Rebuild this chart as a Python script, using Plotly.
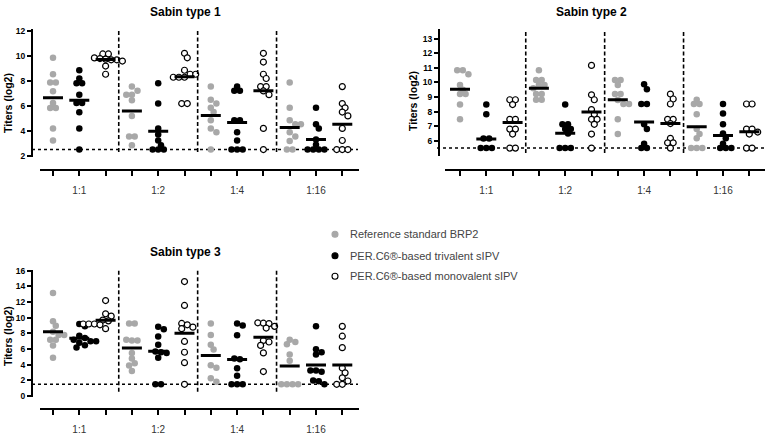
import plotly.graph_objects as go

W, H = 766, 437

dilutions = ["1:1", "1:2", "1:4", "1:16"]
series_names = ["Reference standard BRP2", "PER.C6®-based trivalent sIPV", "PER.C6®-based monovalent sIPV"]
panel_titles = ["Sabin type 1", "Sabin type 2", "Sabin type 3"]
y_title = "Titers (log2)"

# ---- Sabin type 1 (values per dilution 1:1, 1:2, 1:4, 1:16) ----
s1_ref = [[9.86, 8.54, 7.87, 7.87, 7.18, 6.24, 5.84, 5.84, 4.2, 3.23],
          [7.55, 7.22, 6.9, 6.9, 6.45, 5.2, 3.55, 3.55, 2.84],
          [7.55, 6.5, 6.19, 5.85, 5.51, 4.85, 4.2, 3.88, 2.5],
          [7.87, 5.85, 4.85, 4.54, 4.54, 3.88, 3.55, 3.18, 2.5, 2.5]]
s1_tri = [[8.86, 8.2, 7.81, 7.81, 6.9, 6.24, 6.24, 5.5, 4.2, 2.5],
          [7.81, 6.19, 4.2, 3.7, 3.23, 2.84, 2.5, 2.5, 2.5],
          [7.55, 7.21, 7.21, 4.85, 4.85, 3.88, 3.23, 2.5, 2.5, 2.5],
          [5.85, 4.54, 4.2, 3.3, 2.89, 2.5, 2.5, 2.5, 2.5]]
s1_mono = [[10.17, 10.17, 9.85, 9.8, 9.75, 9.7, 9.7, 9.6, 9.2, 8.54],
           [10.22, 9.86, 8.86, 8.54, 8.54, 8.3, 8.3, 8.3, 6.19, 6.19],
           [10.22, 9.52, 8.54, 8.2, 7.55, 7.55, 7.2, 6.9, 4.2, 2.5],
           [7.55, 6.19, 5.85, 5.51, 5.2, 4.2, 3.23, 2.5, 2.5, 2.5]]
s1_mean = [6.66, 6.45, 9.72, 5.59, 3.96, 8.34, 5.24, 4.67, 7.21, 4.28, 3.3, 4.54]

# ---- Sabin type 2 ----
s2_ref = [[10.83, 10.83, 10.56, 9.82, 9.5, 9.2, 9.2, 8.48, 7.47],
          [10.83, 10.16, 10.16, 9.82, 9.82, 9.6, 9.2, 9.2, 8.81, 8.81],
          [10.16, 10.16, 9.82, 9.2, 9.2, 8.8, 8.52, 8.52, 7.47, 6.46],
          [8.81, 8.52, 8.52, 7.81, 6.8, 6.46, 6.17, 5.5, 5.5, 5.5]]
s2_tri = [[8.48, 7.81, 6.15, 6.15, 5.5, 5.5, 5.5],
          [8.48, 7.13, 7.13, 6.8, 6.8, 6.5, 5.5, 5.5, 5.5],
          [9.87, 9.53, 8.52, 8.52, 7.13, 6.8, 5.8, 5.5, 5.5],
          [8.52, 7.87, 7.13, 6.5, 6.17, 5.8, 5.5, 5.5, 5.5]]
s2_mono = [[8.81, 8.81, 8.48, 7.47, 7.47, 6.8, 6.8, 6.46, 5.5, 5.5],
           [11.16, 9.15, 8.81, 8.14, 7.81, 7.47, 7.47, 7.13, 6.46, 5.5],
           [9.2, 8.86, 8.52, 7.47, 7.47, 7.18, 6.17, 5.86, 5.86, 5.5],
           [8.52, 8.52, 6.8, 6.8, 6.6, 6.46, 5.5, 5.5]]
s2_mean = [9.53, 6.13, 7.25, 9.6, 6.51, 7.97, 8.81, 7.29, 7.18, 6.96, 6.36, 6.62]

# ---- Sabin type 3 ----
s3_ref = [[13.16, 9.56, 8.98, 8.2, 7.8, 7.8, 7.18, 7.18, 6.47, 4.89],
          [9.27, 9.27, 7.2, 7.1, 7.1, 5.51, 4.8, 4.2, 3.9, 3.2],
          [9.27, 7.8, 6.55, 5.93, 3.92, 3.63, 2.26, 1.83],
          [7.2, 6.9, 6.6, 5.3, 4.5, 1.5, 1.5, 1.5, 1.5]]
s3_tri = [[9.2, 8.9, 7.7, 7.4, 7.2, 7.0, 7.0, 6.8, 6.5, 6.2],
          [8.85, 8.52, 7.6, 6.55, 5.7, 5.6, 5.5, 4.89, 1.5, 1.5],
          [9.27, 9.0, 7.77, 4.8, 4.7, 3.55, 2.58, 1.5, 1.5, 1.5],
          [8.9, 5.96, 5.6, 5.3, 3.25, 3.25, 3.1, 2.0, 1.9, 1.5]]
s3_mono = [[12.19, 10.5, 10.2, 9.7, 9.6, 9.2, 9.2, 9.2, 9.1, 8.6],
           [14.62, 11.57, 9.27, 9.1, 8.8, 8.6, 6.97, 5.59, 4.26, 1.5],
           [9.35, 9.3, 9.25, 8.9, 8.68, 7.1, 6.9, 6.47, 5.51, 3.13],
           [8.9, 7.64, 6.18, 3.58, 2.96, 2.33, 1.92, 1.5, 1.5]]
s3_mean = [8.22, 7.39, 9.69, 6.14, 5.72, 8.02, 5.18, 4.68, 7.52, 3.84, 3.95, 3.95]

detection_limit = [2.5, 5.5, 1.5]
y_tickvals = [[2, 4, 6, 8, 10, 12], [6, 7, 8, 9, 10, 11, 12, 13], [0, 2, 4, 6, 8, 10, 12, 14, 16]]

panel_data = [(s1_ref, s1_tri, s1_mono, s1_mean),
              (s2_ref, s2_tri, s2_mono, s2_mean),
              (s3_ref, s3_tri, s3_mono, s3_mean)]

# ---------------- layout geometry (pixels) ----------------
SX = 26.3  # px per column unit
layouts = [
    dict(yaxis_x=32, xdom=(40, 359), ydom=(25, 155), yrange=(1.92, 12.13), xline_y=168, dash=(25, 150),
         lod_x=(32, 358), title=(185, 7), ytitle=(8, 100)),
    dict(yaxis_x=439, xdom=(445, 765), ydom=(25, 154), yrange=(4.97, 13.62), xline_y=168, dash=(25, 151),
         lod_x=(437, 764), title=(591, 7), ytitle=(413, 98)),
    dict(yaxis_x=32, xdom=(40, 359), ydom=(271, 400), yrange=(-0.09, 16.04), xline_y=413, dash=(271, 395),
         lod_x=(32, 358), title=(185, 252), ytitle=(8, 338)),
]

GREY = "#a8a8a8"
FONT = "Liberation Sans, Arial, sans-serif"


def fx(p):
    return p / W


def fy(p):
    return 1 - p / H


def swarm(vals, sy, d=5.6):
    """Offsets in px for a simple symmetric beeswarm."""
    idx = sorted(range(len(vals)), key=lambda i: -vals[i])
    offs = [0.0] * len(vals)
    placed = []
    i = 0
    while i < len(idx):
        j = i
        while j + 1 < len(idx) and abs(vals[idx[j + 1]] - vals[idx[i]]) * sy < 1.5:
            j += 1
        grp = idx[i:j + 1]
        n = len(grp)
        base = [(k - (n - 1) / 2) * d for k in range(n)]
        cands = [0.0]
        for m in range(1, 12):
            cands += [m * d / 2, -m * d / 2]
        for s in cands:
            ok = True
            for k, g in enumerate(grp):
                x = base[k] + s
                y = vals[g] * sy
                for (px, py) in placed:
                    if (x - px) ** 2 + (y - py) ** 2 < (d * 0.92) ** 2:
                        ok = False
                        break
                if not ok:
                    break
            if ok:
                break
        for k, g in enumerate(grp):
            offs[g] = base[k] + s
            placed.append((offs[g], vals[g] * sy))
        i = j + 1
    return offs


fig = go.Figure()
shapes = []
annotations = []

for p, (ref, tri, mono, means) in enumerate(panel_data):
    L = layouts[p]
    xa = "x" if p == 0 else f"x{p + 1}"
    ya = "y" if p == 0 else f"y{p + 1}"
    xkey = "xaxis" if p == 0 else f"xaxis{p + 1}"
    ykey = "yaxis" if p == 0 else f"yaxis{p + 1}"
    x0, x1 = L["xdom"]
    # column 1 sits 21 px right of the y axis line
    r0 = 1 - (21 - (x0 - L["yaxis_x"])) / SX
    xr = (r0, r0 + (x1 - x0) / SX)
    y0p, y1p = L["ydom"]
    sy = (y1p - y0p) / (L["yrange"][1] - L["yrange"][0])

    for s, series in enumerate((ref, tri, mono)):
        xs, ys = [], []
        for d, vals in enumerate(series):
            col = d * 3 + s + 1
            offs = swarm(vals, sy)
            xs += [col + o / SX for o in offs]
            ys += list(vals)
        if s == 0:
            marker = dict(color=GREY, size=6.5, line=dict(width=0))
        elif s == 1:
            marker = dict(color="black", size=6.5, line=dict(width=0))
        else:
            marker = dict(color="white", size=6, line=dict(color="black", width=1.2))
        fig.add_trace(go.Scatter(x=xs, y=ys, mode="markers", marker=marker, xaxis=xa, yaxis=ya,
                                 name=series_names[s], showlegend=False, cliponaxis=False))

    # mean bars
    bx, by = [], []
    for c, m in enumerate(means):
        col = c + 1
        bx += [col - 0.38, col + 0.38, None]
        by += [m, m, None]
    fig.add_trace(go.Scatter(x=bx, y=by, mode="lines", line=dict(color="black", width=3),
                             xaxis=xa, yaxis=ya, showlegend=False, hoverinfo="skip"))

    fig.update_layout({
        xkey: dict(domain=[fx(x0), fx(x1)], range=list(xr), anchor="free", position=fy(L["xline_y"]),
                   showline=True, linecolor="black", linewidth=2, showgrid=False, zeroline=False,
                   tickvals=list(range(1, 13)),
                   ticktext=[(dilutions[(c - 1) // 3] if (c - 1) % 3 == 1 else "") for c in range(1, 13)],
                   ticks="outside", ticklen=5, tickwidth=1.6, tickcolor="black",
                   tickfont=dict(family=FONT, size=10, color="#333333"), ticklabelstandoff=6),
        ykey: dict(domain=[fy(y1p), fy(y0p)], range=list(L["yrange"]), anchor="free",
                   position=fx(L["yaxis_x"]),
                   showline=True, linecolor="black", linewidth=2, showgrid=False, zeroline=False,
                   tickvals=y_tickvals[p], ticks="outside", ticklen=4, tickwidth=1.6, tickcolor="black",
                   tickfont=dict(family=FONT, size=8.5, color="black", weight="bold")),
    })

    # dashed separators
    for sep in (3.5, 6.5, 9.5):
        shapes.append(dict(type="line", xref=xa, yref="paper", x0=sep, x1=sep,
                           y0=fy(L["dash"][1]), y1=fy(L["dash"][0]),
                           line=dict(color="black", width=1.6, dash="4px,2.5px")))
    # detection limit
    shapes.append(dict(type="line", xref="paper", yref=ya, x0=fx(L["lod_x"][0]), x1=fx(L["lod_x"][1]),
                       y0=detection_limit[p], y1=detection_limit[p],
                       line=dict(color="black", width=1.5, dash="dot"), layer="below"))
    # panel title
    annotations.append(dict(text=panel_titles[p], xref="paper", yref="paper", x=fx(L["title"][0]),
                            y=fy(L["title"][1]), xanchor="center", yanchor="middle", showarrow=False,
                            font=dict(family=FONT, size=12, color="black", weight="bold")))
    annotations.append(dict(text=y_title, xref="paper", yref="paper", x=fx(L["ytitle"][0]),
                            y=fy(L["ytitle"][1]), xanchor="center", yanchor="middle", showarrow=False,
                            textangle=-90, font=dict(family=FONT, size=10.5, color="black", weight="bold")))

# legend (drawn manually)
legend_y = [234, 256, 277]
for s, name in enumerate(series_names):
    if s == 0:
        fill, lc = GREY, GREY
    elif s == 1:
        fill, lc = "black", "black"
    else:
        fill, lc = "white", "black"
    shapes.append(dict(type="circle", xref="paper", yref="paper", xsizemode="pixel", ysizemode="pixel",
                       xanchor=fx(335), yanchor=fy(legend_y[s]), x0=-3, x1=3, y0=-3, y1=3,
                       fillcolor=fill, line=dict(color=lc, width=1.1)))
    annotations.append(dict(text=name, xref="paper", yref="paper", x=fx(348), y=fy(legend_y[s]),
                            xanchor="left", yanchor="middle", showarrow=False,
                            font=dict(family=FONT, size=11, color="#444444")))

fig.update_layout(width=W, height=H, margin=dict(l=0, r=0, t=0, b=0),
                  paper_bgcolor="white", plot_bgcolor="white", showlegend=False,
                  shapes=shapes, annotations=annotations)

fig.write_html("out.html", config={"displayModeBar": False},
               post_script="document.body.style.margin='0px';")
